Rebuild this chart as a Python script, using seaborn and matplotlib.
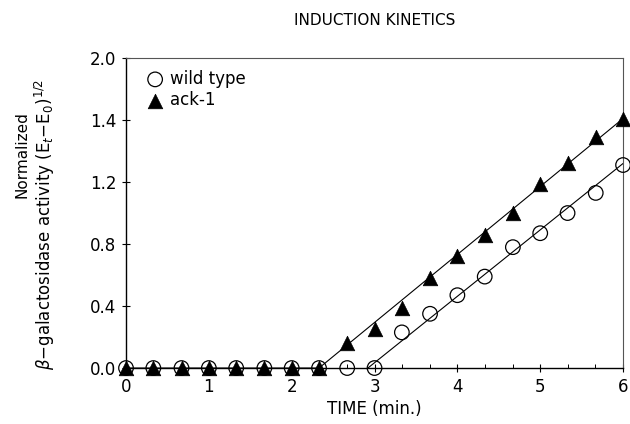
import numpy as np
import pandas as pd
import seaborn as sns
import matplotlib.pyplot as plt
from matplotlib.ticker import MultipleLocator

# --- data ---
time_min = [0, 0.33, 0.67, 1.0, 1.33, 1.67, 2.0, 2.33, 2.67, 3.0,
            3.33, 3.67, 4.0, 4.33, 4.67, 5.0, 5.33, 5.67, 6.0]
wild_type = [0, 0, 0, 0, 0, 0, 0, 0, 0, 0,
             0.23, 0.35, 0.47, 0.59, 0.78, 0.87, 1.0, 1.13, 1.31]
ack1 = [0, 0, 0, 0, 0, 0, 0, 0, 0.16, 0.25,
        0.39, 0.58, 0.72, 0.86, 1.0, 1.19, 1.32, 1.49, 1.61]

# fitted lines drawn through the points
wt_fit_t = [2.92, 6.0]
wt_fit_y = [0.0, 1.32]
ack_fit_t = [0.0, 2.33, 6.0]
ack_fit_y = [0.0, 0.0, 1.61]

y_ticks = [0.0, 0.4, 0.8, 1.2, 1.6, 2.0]
y_tick_labels = ['0.0', '0.4', '0.8', '1.2', '1.4', '2.0']  # as printed in the figure
x_ticks = [0, 1, 2, 3, 4, 5, 6]

sns.set_style('white')
plt.rcParams['font.family'] = ['DejaVu Sans']
plt.rcParams['text.color'] = 'black'
plt.rcParams['axes.labelcolor'] = 'black'
plt.rcParams['xtick.color'] = 'black'
plt.rcParams['ytick.color'] = 'black'

df = pd.DataFrame({'time': time_min * 2,
                   'value': wild_type + ack1,
                   'strain': ['wild type'] * len(time_min) + ['ack-1'] * len(time_min)})

fig = plt.figure(figsize=(6.3, 4.24), dpi=100)
ax = fig.add_axes([0.2, 0.132, 0.789, 0.731])

# fit lines
sns.lineplot(x=wt_fit_t, y=wt_fit_y, ax=ax, color='black', linewidth=0.8, legend=False)
sns.lineplot(x=ack_fit_t, y=ack_fit_y, ax=ax, color='black', linewidth=0.8, legend=False)

# points
wt = df[df['strain'] == 'wild type']
ak = df[df['strain'] == 'ack-1']
sns.scatterplot(data=wt, x='time', y='value', ax=ax, marker='o', s=110,
                facecolor='none', edgecolor='black', linewidth=0.9,
                label='wild type', clip_on=False, zorder=3)
sns.scatterplot(data=ak, x='time', y='value', ax=ax, marker='^', s=110,
                color='black', edgecolor='black', linewidth=0.5,
                label='ack-1', clip_on=False, zorder=4)

ax.set_xlim(0, 6)
ax.set_ylim(0, 2.0)
ax.set_xticks(x_ticks)
ax.xaxis.set_minor_locator(MultipleLocator(1 / 3))
ax.set_yticks(y_ticks)
ax.set_yticklabels(y_tick_labels)
ax.tick_params(axis='both', which='major', direction='inout', length=6, width=0.8,
               labelsize=12, colors='black', pad=4)
ax.tick_params(axis='x', which='minor', direction='in', length=3, width=0.7, bottom=True)
ax.tick_params(left=True, bottom=True)

for side in ['left', 'bottom']:
    ax.spines[side].set_color('black')
    ax.spines[side].set_linewidth(1.0)
for side in ['top', 'right']:
    ax.spines[side].set_color('#555555')
    ax.spines[side].set_linewidth(0.8)

ax.set_xlabel('TIME (min.)', fontsize=12, labelpad=3)
ax.set_ylabel('')
ax.set_title('INDUCTION KINETICS', fontsize=11, pad=24)

fig.text(0.035, 0.635, 'Normalized', rotation=90, fontsize=11, ha='center', va='center')
fig.text(0.072, 0.47, r'$\beta$$-$galactosidase activity (E$_t$$-$E$_0$)$^{1/2}$',
         rotation=90, fontsize=12, ha='center', va='center')

leg = ax.legend(loc='upper left', frameon=False, fontsize=12, handletextpad=0.3,
                borderaxespad=0.3, labelspacing=0.2, handlelength=1.2,
                bbox_to_anchor=(0.015, 1.0))

fig.savefig('out.png', dpi=100)
